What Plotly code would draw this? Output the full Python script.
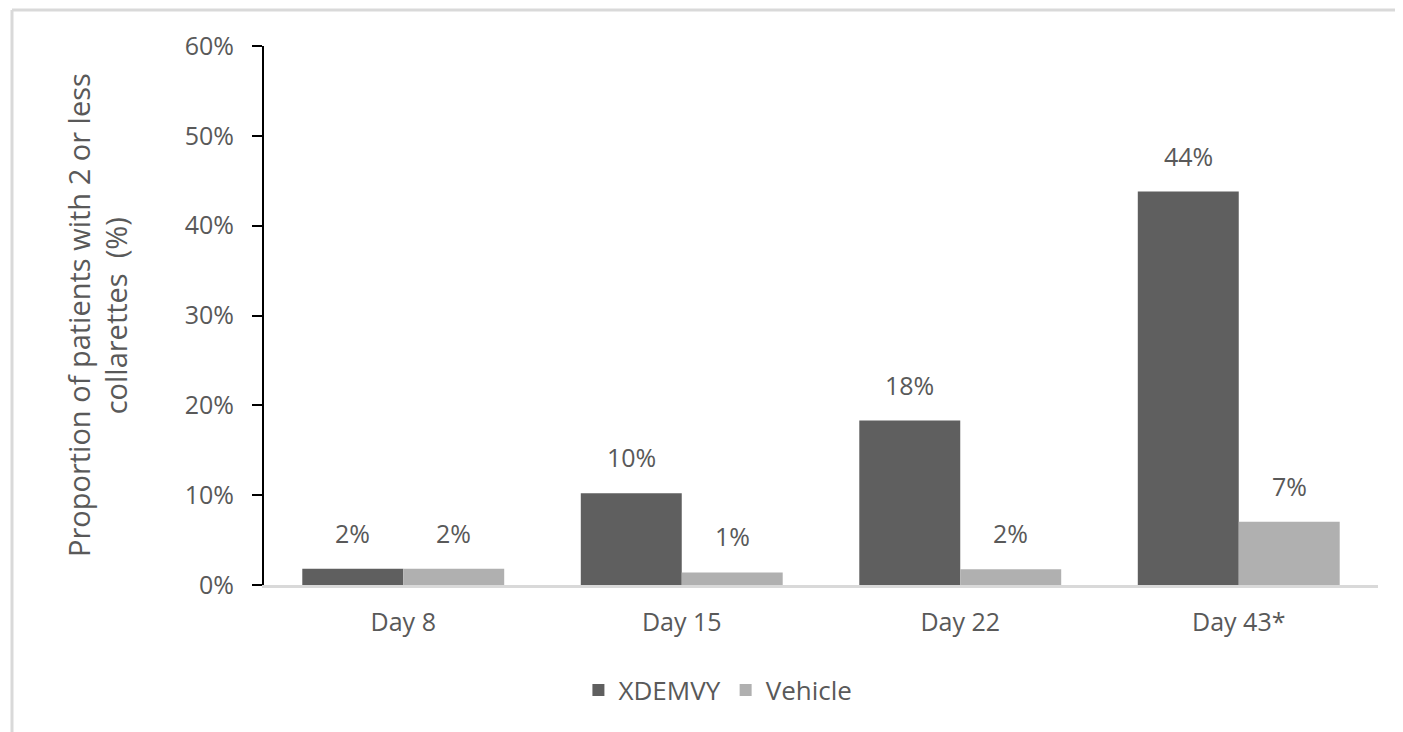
import plotly.graph_objects as go

categories = ["Day 8", "Day 15", "Day 22", "Day 43*"]
xdemvy = [1.8, 10.2, 18.3, 43.8]
vehicle = [1.8, 1.4, 1.75, 7.05]
xdemvy_labels = ["2%", "10%", "18%", "44%"]
vehicle_labels = ["2%", "1%", "2%", "7%"]
y_ticks = [0, 10, 20, 30, 40, 50, 60]
y_tick_labels = ["0%", "10%", "20%", "30%", "40%", "50%", "60%"]
y_title_lines = ["Proportion of patients with 2 or less", "collarettes  (%)"]

FONT = "Open Sans"
TXT = "#595959"
BARGAP = 0.275
FS = 25

fig = go.Figure()
fig.add_trace(go.Bar(name="XDEMVY", x=list(range(len(categories))), y=xdemvy,
                     marker=dict(color="#5f5f5f", line=dict(width=0))))
fig.add_trace(go.Bar(name="Vehicle", x=list(range(len(categories))), y=vehicle,
                     marker=dict(color="#b0b0b0", line=dict(width=0))))

half = (1 - BARGAP) / 4
for i in range(len(categories)):
    for off, val, lab in ((-half, xdemvy[i], xdemvy_labels[i]), (half, vehicle[i], vehicle_labels[i])):
        fig.add_annotation(x=i + off, y=val, text=lab, showarrow=False, xref="x", yref="y",
                           yanchor="bottom", yshift=17,
                           font=dict(family=FONT, size=FS, color=TXT))

# y-axis title as two rotated lines
for xp, line in zip((-0.1665, -0.1330), y_title_lines):
    fig.add_annotation(x=xp, y=0.5, xref="paper", yref="paper", text=line, textangle=-90,
                       showarrow=False, xanchor="center", yanchor="middle",
                       font=dict(family=FONT, size=29, color=TXT))

fig.update_layout(
    width=1403, height=732,
    margin=dict(l=256, r=33, t=38, b=155),
    paper_bgcolor="white", plot_bgcolor="white",
    barmode="group", bargap=BARGAP, bargroupgap=0,
    font=dict(family=FONT, size=FS, color=TXT),
    showlegend=True,
    legend=dict(orientation="h", xref="container", yref="container",
                x=0.506, y=0.068, xanchor="center", yanchor="middle",
                font=dict(family=FONT, size=26, color=TXT), itemwidth=30,
                traceorder="normal"),
    xaxis=dict(tickmode="array", tickvals=list(range(len(categories))), ticktext=categories,
               range=[-0.5, len(categories) - 0.5], showgrid=False, zeroline=False,
               showline=True, linecolor="#d9d9d9", linewidth=3, ticks="",
               ticklabelstandoff=13,
               tickfont=dict(family=FONT, size=FS, color=TXT)),
    yaxis=dict(range=[0, 60], tickmode="array", tickvals=y_ticks, ticktext=y_tick_labels,
               showgrid=False, zeroline=False, showline=True, linecolor="black", linewidth=2,
               ticks="outside", ticklen=10, tickwidth=2, tickcolor="black",
               ticklabelstandoff=13,
               tickfont=dict(family=FONT, size=FS, color=TXT)),
)

# outer light-gray frame
fig.add_shape(type="line", xref="paper", yref="paper", x0=-0.2262, x1=1.1, y0=1.0668, y1=1.0668,
              line=dict(color="#d9d9d9", width=3))
fig.add_shape(type="line", xref="paper", yref="paper", x0=-0.2262, x1=-0.2262, y0=1.0668, y1=-0.4,
              line=dict(color="#d9d9d9", width=3))

fig.write_html("out.html")
